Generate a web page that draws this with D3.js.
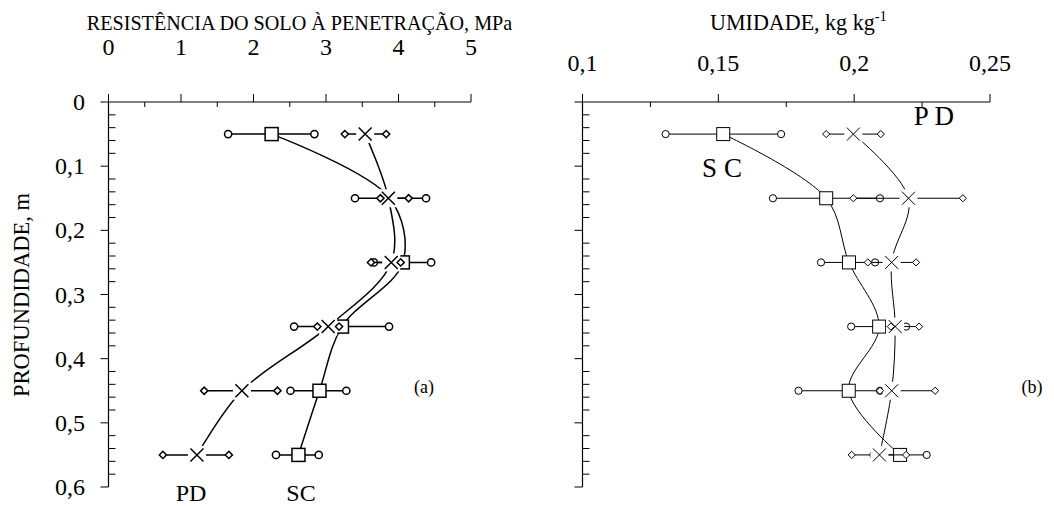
<!DOCTYPE html>
<html>
<head>
<meta charset="utf-8">
<script src="https://cdn.jsdelivr.net/npm/d3@7"></script>
<style>
  body { margin: 0; background: #fff; }
</style>
</head>
<body>
<svg id="chart" width="1054" height="506"></svg>
<script>
// depths (m)
var depths = [0.05, 0.15, 0.25, 0.35, 0.45, 0.55];

// (a) resistance, MPa
var rpSC = [2.25, 3.88, 4.06, 3.22, 2.91, 2.62];
var rpSClo = [1.65, 3.40, 3.66, 2.56, 2.51, 2.31];
var rpSChi = [2.84, 4.38, 4.45, 3.87, 3.28, 2.90];
var rpPD = [3.54, 3.86, 3.90, 3.03, 1.84, 1.22];
var rpPDlo = [3.26, 3.75, 3.62, 2.88, 1.32, 0.75];
var rpPDhi = [3.83, 4.14, 4.03, 3.18, 2.33, 1.66];

// (b) moisture, kg/kg
var umSC = [0.1518, 0.1897, 0.1981, 0.2092, 0.198, 0.2169];
var umSClo = [0.1306, 0.1701, 0.1878, 0.1989, 0.1795, 0.2071];
var umSChi = [0.1731, 0.2095, 0.2077, 0.2191, 0.2095, 0.2267];
var umPD = [0.1997, 0.2200, 0.2138, 0.2151, 0.2138, 0.2093];
var umPDlo = [0.1897, 0.1997, 0.2050, 0.2135, 0.2095, 0.1991];
var umPDhi = [0.2098, 0.2400, 0.2228, 0.2239, 0.2298, 0.2191];

var xTicksA = [0, 1, 2, 3, 4, 5];
var xTicksB = [0.1, 0.15, 0.2, 0.25];
var yTicks = [0, 0.1, 0.2, 0.3, 0.4, 0.5, 0.6];

var FONT = "'Liberation Serif', 'Times New Roman', Times, serif";
var svg = d3.select("#chart");
var fmt = function(v) { return String(+v.toFixed(3)).replace(".", ","); };

function txt(sel, size) {
  return sel.append("text").attr("font-family", FONT).attr("font-size", size).attr("fill", "#000");
}

function drawPanel(p) {
  var x = d3.scaleLinear().domain(p.xDomain).range(p.xRange);
  var y = d3.scaleLinear().domain([0, 0.6]).range([102, 487]);
  var g = svg.append("g");
  var sw = p.sw;

  // x axis (top)
  g.append("line").attr("x1", x.range()[0]).attr("x2", x.range()[1])
    .attr("y1", 102).attr("y2", 102).attr("stroke", "#000").attr("stroke-width", 1.2);
  g.selectAll(".xmaj").data(p.xTicks).enter().append("line")
    .attr("x1", d => x(d)).attr("x2", d => x(d)).attr("y1", 94).attr("y2", 102)
    .attr("stroke", "#000").attr("stroke-width", 1);
  g.selectAll(".xmin").data(d3.range(p.xDomain[0] + p.xMinor, p.xDomain[1], p.xMinor * 2)).enter().append("line")
    .attr("x1", d => x(d)).attr("x2", d => x(d)).attr("y1", 102).attr("y2", 107)
    .attr("stroke", "#000").attr("stroke-width", 1);
  p.xTicks.forEach(function(d) {
    txt(g, p.xLabSize).attr("x", x(d)).attr("y", p.xLabY).attr("text-anchor", "middle").text(fmt(d));
  });

  // y axis
  var x0 = x.range()[0];
  g.append("line").attr("x1", x0).attr("x2", x0).attr("y1", 102).attr("y2", 487)
    .attr("stroke", "#000").attr("stroke-width", 1.2);
  g.selectAll(".ymaj").data(yTicks).enter().append("line")
    .attr("x1", x0 - 8).attr("x2", x0).attr("y1", d => y(d)).attr("y2", d => y(d))
    .attr("stroke", "#000").attr("stroke-width", 1);
  g.selectAll(".ymin").data(d3.range(1, 30).filter(i => i % 5 != 0).map(i => i * 0.02)).enter().append("line")
    .attr("x1", x0).attr("x2", x0 + 7).attr("y1", d => y(d)).attr("y2", d => y(d))
    .attr("stroke", "#000").attr("stroke-width", 1);
  if (p.yLabels) {
    yTicks.forEach(function(d) {
      txt(g, 24).attr("x", 85).attr("y", y(d) + 8).attr("text-anchor", "end").text(fmt(d));
    });
  }

  var curve = d3.line().x(d => x(d[0])).y(d => y(d[1])).curve(d3.curveCatmullRom.alpha(0.5));

  // connecting curves
  [p.sc, p.pd].forEach(function(s) {
    g.append("path").attr("d", curve(s.map((v, i) => [v, depths[i]])))
      .attr("fill", "none").attr("stroke", "#000").attr("stroke-width", sw);
  });

  // SC error bars + squares
  depths.forEach(function(d, i) {
    g.append("line").attr("x1", x(p.scLo[i])).attr("x2", x(p.scHi[i]))
      .attr("y1", y(d)).attr("y2", y(d)).attr("stroke", "#000").attr("stroke-width", sw);
    [p.scLo[i], p.scHi[i]].forEach(function(v) {
      g.append("circle").attr("cx", x(v)).attr("cy", y(d)).attr("r", 3.6)
        .attr("fill", "#fff").attr("stroke", "#000").attr("stroke-width", sw);
    });
    g.append("rect").attr("x", x(p.sc[i]) - 6.5).attr("y", y(d) - 6.5)
      .attr("width", 13).attr("height", 13)
      .attr("fill", "#fff").attr("stroke", "#000").attr("stroke-width", sw);
  });

  // PD error bars + X markers (white knock-out behind the X)
  depths.forEach(function(d, i) {
    g.append("line").attr("x1", x(p.pdLo[i])).attr("x2", x(p.pdHi[i]))
      .attr("y1", y(d)).attr("y2", y(d)).attr("stroke", "#000").attr("stroke-width", sw);
    var cx = x(p.pd[i]), cy = y(d);
    g.append("rect").attr("x", cx - 9).attr("y", cy - 9).attr("width", 18).attr("height", 18)
      .attr("fill", "#fff");
    g.append("path").attr("d", "M" + (cx - 6.5) + "," + (cy - 6.5) + "L" + (cx + 6.5) + "," + (cy + 6.5) +
        "M" + (cx - 6.5) + "," + (cy + 6.5) + "L" + (cx + 6.5) + "," + (cy - 6.5))
      .attr("stroke", "#000").attr("stroke-width", sw).attr("fill", "none");
    [p.pdLo[i], p.pdHi[i]].forEach(function(v) {
      var dx = x(v), r = 3.6;
      g.append("path").attr("d", "M" + (dx - r) + "," + cy + "L" + dx + "," + (cy - r) +
          "L" + (dx + r) + "," + cy + "L" + dx + "," + (cy + r) + "Z")
        .attr("fill", "#fff").attr("stroke", "#000").attr("stroke-width", sw);
    });
  });

  p.texts.forEach(function(t) {
    txt(g, t.size).attr("x", t.x).attr("y", t.y).attr("text-anchor", "middle").text(t.text);
  });
}

drawPanel({
  xDomain: [0, 5], xRange: [108.5, 471], xTicks: xTicksA, xMinor: 0.5, sw: 1.5, yLabels: true,
  xLabSize: 24, xLabY: 55,
  sc: rpSC, scLo: rpSClo, scHi: rpSChi, pd: rpPD, pdLo: rpPDlo, pdHi: rpPDhi,
  texts: [
    {text: "PD", x: 191, y: 501, size: 24},
    {text: "SC", x: 301, y: 501, size: 24},
    {text: "(a)", x: 424, y: 393, size: 18}
  ]
});

drawPanel({
  xDomain: [0.1, 0.25], xRange: [582.5, 990], xTicks: xTicksB, xMinor: 0.025, sw: 1, yLabels: false,
  xLabSize: 24, xLabY: 71,
  sc: umSC, scLo: umSClo, scHi: umSChi, pd: umPD, pdLo: umPDlo, pdHi: umPDhi,
  texts: [
    {text: "S C", x: 722, y: 177, size: 27},
    {text: "P D", x: 934, y: 125, size: 27},
    {text: "(b)", x: 1032, y: 393, size: 18}
  ]
});

// fit a text element to a measured width around a centre
function fitWidth(t, cx, w) {
  var cur = t.node().getComputedTextLength();
  var k = w / cur;
  t.attr("font-size", +t.attr("font-size") * k);
  t.selectAll("tspan").each(function() {
    var s = d3.select(this);
    if (s.attr("font-size")) s.attr("font-size", +s.attr("font-size") * k);
    if (s.attr("dy")) s.attr("dy", +s.attr("dy") * k);
  });
  t.attr("x", cx);
}

// titles
var t1 = txt(svg, 18).attr("y", 30).attr("text-anchor", "middle")
  .text("RESISTÊNCIA DO SOLO À PENETRAÇÃO, MPa");
fitWidth(t1, 299.5, 426);

var t2 = txt(svg, 18).attr("y", 30).attr("text-anchor", "middle");
t2.append("tspan").text("UMIDADE, kg kg");
t2.append("tspan").attr("dy", -7).attr("font-size", 12).text("-1");
fitWidth(t2, 798.5, 177);

var t3 = txt(svg, 18).attr("transform", "translate(29,295) rotate(-90)")
  .attr("text-anchor", "middle").text("PROFUNDIDADE, m");
fitWidth(t3, 0, 204);
</script>
</body>
</html>
